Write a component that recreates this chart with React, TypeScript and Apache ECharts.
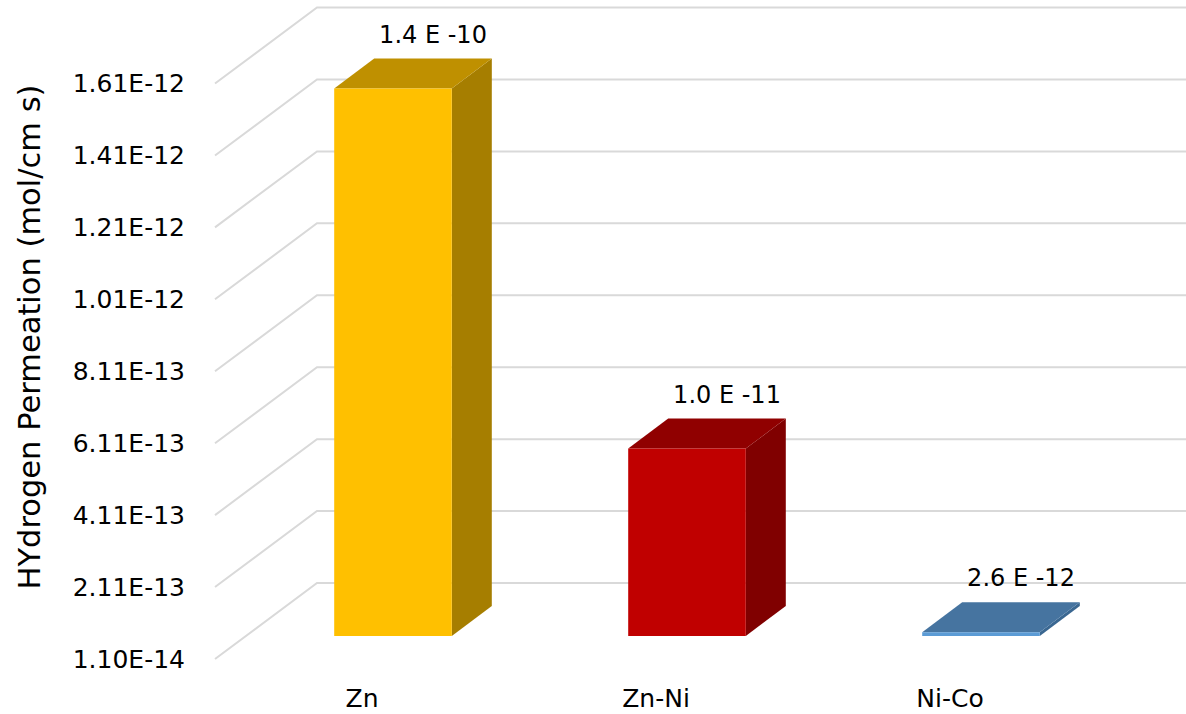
import React, { useEffect, useRef } from "react";
import * as echarts from "echarts";

// Coatings and their measured hydrogen permeation (mol/cm s)
const categories = ["Zn", "Zn-Ni", "Ni-Co"];
const permeation = [1.4e-10, 1.0e-11, 2.6e-12];

// Printed value scale on the left wall
const tickValues = [
  1.1e-14, 2.11e-13, 4.11e-13, 6.11e-13, 8.11e-13, 1.011e-12, 1.211e-12, 1.411e-12, 1.611e-12,
];
const tickStep = 2e-13;

// Logarithmic scale the columns are drawn on
const barScaleMin = 2.53e-12;
const barScaleMax = 1.72e-10;

// Face colours of each 3-D column: front, top, side
const faceColors = [
  ["#FFC000", "#BF9000", "#A67E00"],
  ["#C00000", "#900000", "#800000"],
  ["#5B9BD5", "#4674A0", "#3A6791"],
];

const FONT = "'DejaVu Sans', Verdana, sans-serif";
const GRID_COLOR = "#D9D9D9";

// Perspective: full depth of the floor, and the column's front / thickness inside it
const DEPTH_DX = 102;
const DEPTH_DY = -76;
const FRONT_DX = 31;
const FRONT_DY = -23;
const BAR_DX = 40;
const BAR_DY = -30;

function formatTick(v: number): string {
  return v.toExponential(2).replace("e", "E");
}

function formatValue(v: number): string {
  const [m, e] = v.toExponential(1).split("e");
  return `${m} E ${e.replace("+", "")}`;
}

export default function App() {
  const ref = useRef<HTMLDivElement>(null);

  useEffect(() => {
    if (!ref.current) return;
    const chart = echarts.init(ref.current, undefined, { renderer: "svg" });

    const option: any = {
      animation: false,
      backgroundColor: "#FFFFFF",
      grid: { left: 215, top: 83.5, width: 882, height: 575.5 },
      xAxis: {
        type: "category",
        data: categories,
        axisLine: { show: false },
        axisTick: { show: false },
        splitLine: { show: false },
        axisLabel: { fontFamily: FONT, fontSize: 25, color: "#000", margin: 27 },
      },
      yAxis: [
        {
          type: "value",
          min: tickValues[0],
          max: tickValues[tickValues.length - 1],
          interval: tickStep,
          axisLine: { show: false },
          axisTick: { show: false },
          splitLine: { show: false },
          axisLabel: {
            fontFamily: FONT,
            fontSize: 25,
            color: "#000",
            margin: 30,
            formatter: (v: number) => formatTick(v),
          },
        },
        {
          type: "log",
          logBase: 10,
          min: barScaleMin,
          max: barScaleMax,
          show: false,
        },
      ],
      graphic: [
        {
          type: "text",
          x: 29,
          y: 337,
          rotation: Math.PI / 2,
          style: {
            text: "HYdrogen Permeation (mol/cm s)",
            font: `30.5px ${FONT}`,
            fill: "#000",
            align: "center",
            verticalAlign: "middle",
          },
        },
      ],
      series: [
        {
          // wall and floor gridlines: front edge up to the back wall, then across it
          type: "custom",
          coordinateSystem: "cartesian2d",
          yAxisIndex: 0,
          clip: false,
          z: 1,
          silent: true,
          data: tickValues.map((v) => [0, v]),
          renderItem: (params: any, api: any) => {
            const cs = params.coordSys;
            const y = api.coord([0, api.value(1)])[1];
            return {
              type: "polyline",
              shape: {
                points: [
                  [cs.x, y],
                  [cs.x + DEPTH_DX, y + DEPTH_DY],
                  [cs.x + cs.width + DEPTH_DX + 20, y + DEPTH_DY],
                ],
              },
              style: { stroke: GRID_COLOR, lineWidth: 2, fill: null },
            };
          },
        },
        {
          // 3-D columns with their value labels
          type: "custom",
          coordinateSystem: "cartesian2d",
          yAxisIndex: 1,
          clip: false,
          z: 2,
          data: permeation.map((v, i) => [i, v]),
          renderItem: (params: any, api: any) => {
            const i = api.value(0);
            const v = api.value(1);
            const top = api.coord([i, v]);
            const base = api.coord([i, barScaleMin]);
            const band = api.size([1, 0], [i, v])[0];
            const w = band * 0.4;
            const x0 = top[0] + FRONT_DX - w / 2;
            const x1 = x0 + w;
            const yT = top[1] + FRONT_DY;
            const yB = base[1] + FRONT_DY;
            const [front, topC, side] = faceColors[i];
            return {
              type: "group",
              children: [
                {
                  type: "polygon",
                  shape: {
                    points: [
                      [x1, yT],
                      [x1 + BAR_DX, yT + BAR_DY],
                      [x1 + BAR_DX, yB + BAR_DY],
                      [x1, yB],
                    ],
                  },
                  style: { fill: side },
                },
                {
                  type: "polygon",
                  shape: {
                    points: [
                      [x0, yT],
                      [x1, yT],
                      [x1 + BAR_DX, yT + BAR_DY],
                      [x0 + BAR_DX, yT + BAR_DY],
                    ],
                  },
                  style: { fill: topC },
                },
                {
                  type: "rect",
                  shape: { x: x0, y: yT, width: w, height: Math.max(yB - yT, 0) },
                  style: { fill: front },
                },
                {
                  type: "text",
                  x: (x0 + x1) / 2 + BAR_DX,
                  y: yT + BAR_DY - 24,
                  style: {
                    text: formatValue(v),
                    font: `24px ${FONT}`,
                    fill: "#000",
                    align: "center",
                    verticalAlign: "middle",
                  },
                },
              ],
            };
          },
        },
      ],
    };

    chart.setOption(option);
    return () => chart.dispose();
  }, []);

  return (
    <div
      ref={ref}
      style={{ position: "absolute", left: 0, top: 0, width: 1186, height: 714 }}
    />
  );
}
